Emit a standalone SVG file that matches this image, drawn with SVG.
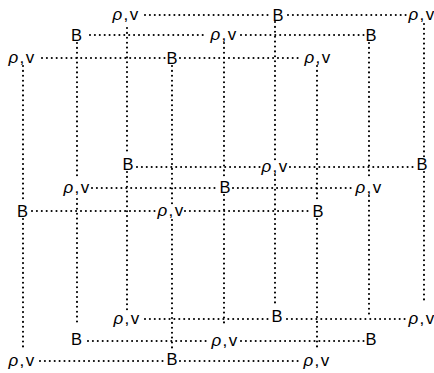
<svg xmlns="http://www.w3.org/2000/svg" width="434" height="373" viewBox="0 0 434 373">
<style>
.bg{fill:#fff}
.c line{stroke:#000;stroke-width:2.1;stroke-dasharray:0 4.9;stroke-linecap:round;fill:none}
text{font-family:"Liberation Sans",Arial,Helvetica,sans-serif;font-size:16.5px;fill:#000;text-anchor:middle}
.p{font-size:17px;letter-spacing:1.3px}
.r{font-style:italic}
</style>
<rect class="bg" x="0" y="0" width="434" height="373"/>
<g id="connectors" class="c">
<line x1="145" y1="15" x2="268" y2="15"/>
<line x1="288" y1="15" x2="406" y2="15"/>
<line x1="90" y1="35" x2="207" y2="35"/>
<line x1="241" y1="35" x2="364" y2="35"/>
<line x1="42" y1="58" x2="165" y2="58"/>
<line x1="180" y1="58" x2="302" y2="58"/>
<line x1="137" y1="167" x2="260" y2="167"/>
<line x1="290" y1="167" x2="415" y2="167"/>
<line x1="92" y1="188" x2="217" y2="188"/>
<line x1="233" y1="188" x2="352" y2="188"/>
<line x1="32" y1="211" x2="155" y2="211"/>
<line x1="185" y1="211" x2="310" y2="211"/>
<line x1="145" y1="319" x2="270" y2="319"/>
<line x1="287" y1="319" x2="405" y2="319"/>
<line x1="88" y1="341" x2="207" y2="341"/>
<line x1="241" y1="341" x2="364" y2="341"/>
<line x1="40" y1="361" x2="165" y2="361"/>
<line x1="180" y1="361" x2="300" y2="361"/>
<line x1="23" y1="66" x2="23" y2="203"/>
<line x1="23" y1="219" x2="23" y2="350"/>
<line x1="77" y1="43" x2="77" y2="180"/>
<line x1="77" y1="199" x2="77" y2="323"/>
<line x1="127" y1="28" x2="127" y2="155"/>
<line x1="127" y1="172" x2="127" y2="310"/>
<line x1="172" y1="66" x2="172" y2="204"/>
<line x1="172" y1="220" x2="172" y2="348"/>
<line x1="224" y1="43" x2="224" y2="178"/>
<line x1="224" y1="195" x2="224" y2="325"/>
<line x1="275" y1="22" x2="275" y2="160"/>
<line x1="275" y1="175" x2="275" y2="305"/>
<line x1="317" y1="66" x2="317" y2="203"/>
<line x1="317" y1="219" x2="317" y2="347"/>
<line x1="369" y1="43" x2="369" y2="180"/>
<line x1="369" y1="196" x2="369" y2="315"/>
<line x1="424" y1="24" x2="424" y2="157"/>
<line x1="424" y1="172" x2="424" y2="302"/>
</g>
<g id="n1"><text class="p" x="126" y="20"><tspan class="r">ρ</tspan>,v</text></g>
<g id="n2"><text x="278" y="21">B</text></g>
<g id="n3"><text class="p" x="422" y="20"><tspan class="r">ρ</tspan>,v</text></g>
<g id="n4"><text x="76.5" y="41">B</text></g>
<g id="n5"><text class="p" x="224" y="40"><tspan class="r">ρ</tspan>,v</text></g>
<g id="n6"><text x="371" y="41">B</text></g>
<g id="n7"><text class="p" x="22" y="63"><tspan class="r">ρ</tspan>,v</text></g>
<g id="n8"><text x="172" y="64">B</text></g>
<g id="n9"><text class="p" x="318" y="63"><tspan class="r">ρ</tspan>,v</text></g>
<g id="n10"><text x="128" y="170">B</text></g>
<g id="n11"><text class="p" x="275" y="172"><tspan class="r">ρ</tspan>,v</text></g>
<g id="n12"><text x="422" y="170">B</text></g>
<g id="n13"><text class="p" x="77" y="193"><tspan class="r">ρ</tspan>,v</text></g>
<g id="n14"><text x="225" y="193">B</text></g>
<g id="n15"><text class="p" x="369" y="193"><tspan class="r">ρ</tspan>,v</text></g>
<g id="n16"><text x="22.5" y="217">B</text></g>
<g id="n17"><text class="p" x="171" y="216"><tspan class="r">ρ</tspan>,v</text></g>
<g id="n18"><text x="318" y="217">B</text></g>
<g id="n19"><text class="p" x="127" y="324"><tspan class="r">ρ</tspan>,v</text></g>
<g id="n20"><text x="277" y="322">B</text></g>
<g id="n21"><text class="p" x="422" y="324"><tspan class="r">ρ</tspan>,v</text></g>
<g id="n22"><text x="76.5" y="345">B</text></g>
<g id="n23"><text class="p" x="225" y="346"><tspan class="r">ρ</tspan>,v</text></g>
<g id="n24"><text x="371" y="345">B</text></g>
<g id="n25"><text class="p" x="22" y="366"><tspan class="r">ρ</tspan>,v</text></g>
<g id="n26"><text x="172" y="365">B</text></g>
<g id="n27"><text class="p" x="317" y="366"><tspan class="r">ρ</tspan>,v</text></g>
</svg>
